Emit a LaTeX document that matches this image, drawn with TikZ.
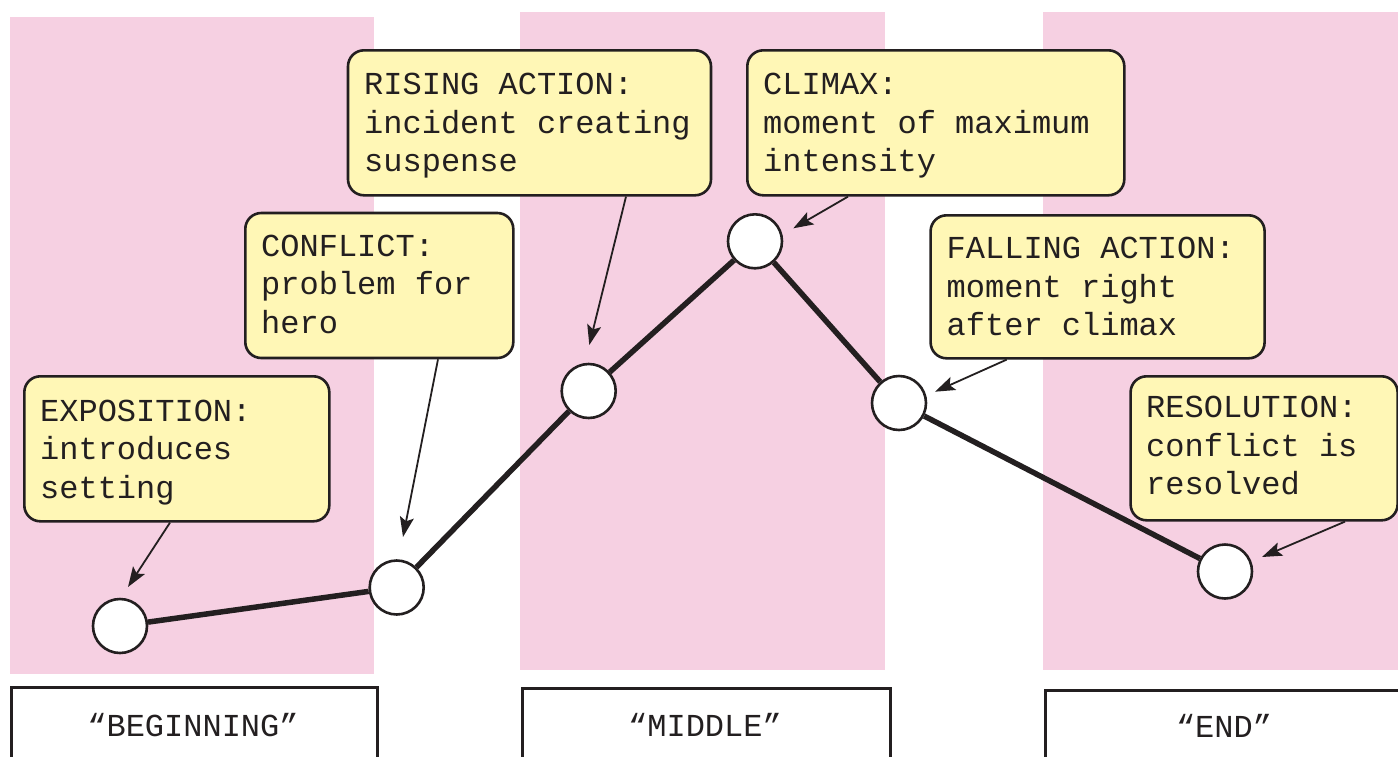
\documentclass[tikz,border=0pt]{standalone}
\usepackage{fontspec}
\newfontfamily\plotmono{Liberation Mono}
\usetikzlibrary{arrows.meta}
\definecolor{actpink}{RGB}{246,208,226}
\definecolor{noteyellow}{RGB}{255,247,182}
\definecolor{inkdark}{RGB}{35,31,32}
\begin{document}
\begin{tikzpicture}[x=1pt,y=-1pt,
  band/.style={fill=actpink,draw=none},
  partbox/.style={draw=inkdark,line width=2.6pt,fill=white,anchor=north west,inner sep=0pt},
  notebox/.style={draw=inkdark,line width=2.6pt,fill=noteyellow,rounded corners=16pt,anchor=north west,inner sep=0pt},
  notetext/.style={inner sep=0pt,anchor=north west,align=left,text=inkdark,font=\plotmono\fontsize{32}{38.5}\selectfont},
  parttext/.style={inner sep=0pt,anchor=base,text=inkdark,font=\plotmono\fontsize{32}{38.5}\selectfont},
  event/.style={circle,draw=inkdark,line width=2.6pt,fill=white,minimum size=54pt,inner sep=0pt},
  plotline/.style={draw=inkdark,line width=5.5pt},
  pointer/.style={draw=inkdark,line width=1.8pt,-{Stealth[length=20pt,width=14pt,inset=4pt]}}
]
\clip (0,0) rectangle (1398,756);
\fill[white] (0,0) rectangle (1398,756);

% act bands
\fill[band] (10,17) rectangle (374,674);
\fill[band] (520,12) rectangle (885,670);
\fill[band] (1043,12) rectangle (1420,670);

% act labels
\node[partbox,minimum width=366pt,minimum height=120pt] (begbox) at (10,686) {};
\node[partbox,minimum width=368pt,minimum height=120pt] (midbox) at (521,687) {};
\node[partbox,minimum width=370pt,minimum height=120pt] (endbox) at (1044,689) {};
\node[parttext] (begtxt) at (193,736) {“BEGINNING”};
\node[parttext] (midtxt) at (705,736) {“MIDDLE”};
\node[parttext] (endtxt) at (1224,737) {“END”};

% plot points
\node[event] (c1) at (120,626) {};
\node[event] (c2) at (396.7,587.5) {};
\node[event] (c3) at (588.7,391) {};
\node[event] (c4) at (755,241.3) {};
\node[event] (c5) at (899,403) {};
\node[event] (c6) at (1225,571.5) {};
\path[plotline] (c1) -- (c2);
\path[plotline] (c2) -- (c3);
\path[plotline] (c3) -- (c4);
\path[plotline] (c4) -- (c5);
\path[plotline] (c5) -- (c6);

% notes
\node[notebox,minimum width=305pt,minimum height=145pt] (expbox) at (23,375) {};
\node[notebox,minimum width=268pt,minimum height=145pt] (confbox) at (244,211.7) {};
\node[notebox,minimum width=363pt,minimum height=145pt] (risebox) at (346.7,49) {};
\node[notebox,minimum width=377pt,minimum height=145pt] (climbox) at (746,49) {};
\node[notebox,minimum width=334pt,minimum height=143pt] (fallbox) at (929.3,214) {};
\node[notebox,minimum width=267pt,minimum height=144pt] (resbox) at (1129.3,375) {};

\node[notetext] (exptxt) at (40,399.5) {EXPOSITION:\\introduces\\setting};
\node[notetext] (conftxt) at (261,234.5) {CONFLICT:\\problem for\\hero};
\node[notetext] (risetxt) at (364,73) {RISING ACTION:\\incident creating\\suspense};
\node[notetext] (climtxt) at (763,73) {CLIMAX:\\moment of maximum\\intensity};
\node[notetext] (falltxt) at (946.5,237) {FALLING ACTION:\\moment right\\after climax};
\node[notetext] (restxt) at (1146,396) {RESOLUTION:\\conflict is\\resolved};

% pointers
\coordinate (exptip) at (128,587);
\coordinate (conftip) at (403,537);
\coordinate (risetip) at (589.3,345);
\coordinate (climtip) at (793.3,228.3);
\coordinate (falltip) at (935,391.7);
\coordinate (restip) at (1262,557);
\draw[pointer] ([xshift=147pt]expbox.south west) -- (exptip);
\draw[pointer] ([xshift=194pt]confbox.south west) -- (conftip);
\draw[pointer] ([xshift=279.3pt]risebox.south west) -- (risetip);
\draw[pointer] ([xshift=102pt]climbox.south west) -- (climtip);
\draw[pointer] ([xshift=77.4pt]fallbox.south west) -- (falltip);
\draw[pointer] ([xshift=215.7pt]resbox.south west) -- (restip);
\end{tikzpicture}
\end{document}
